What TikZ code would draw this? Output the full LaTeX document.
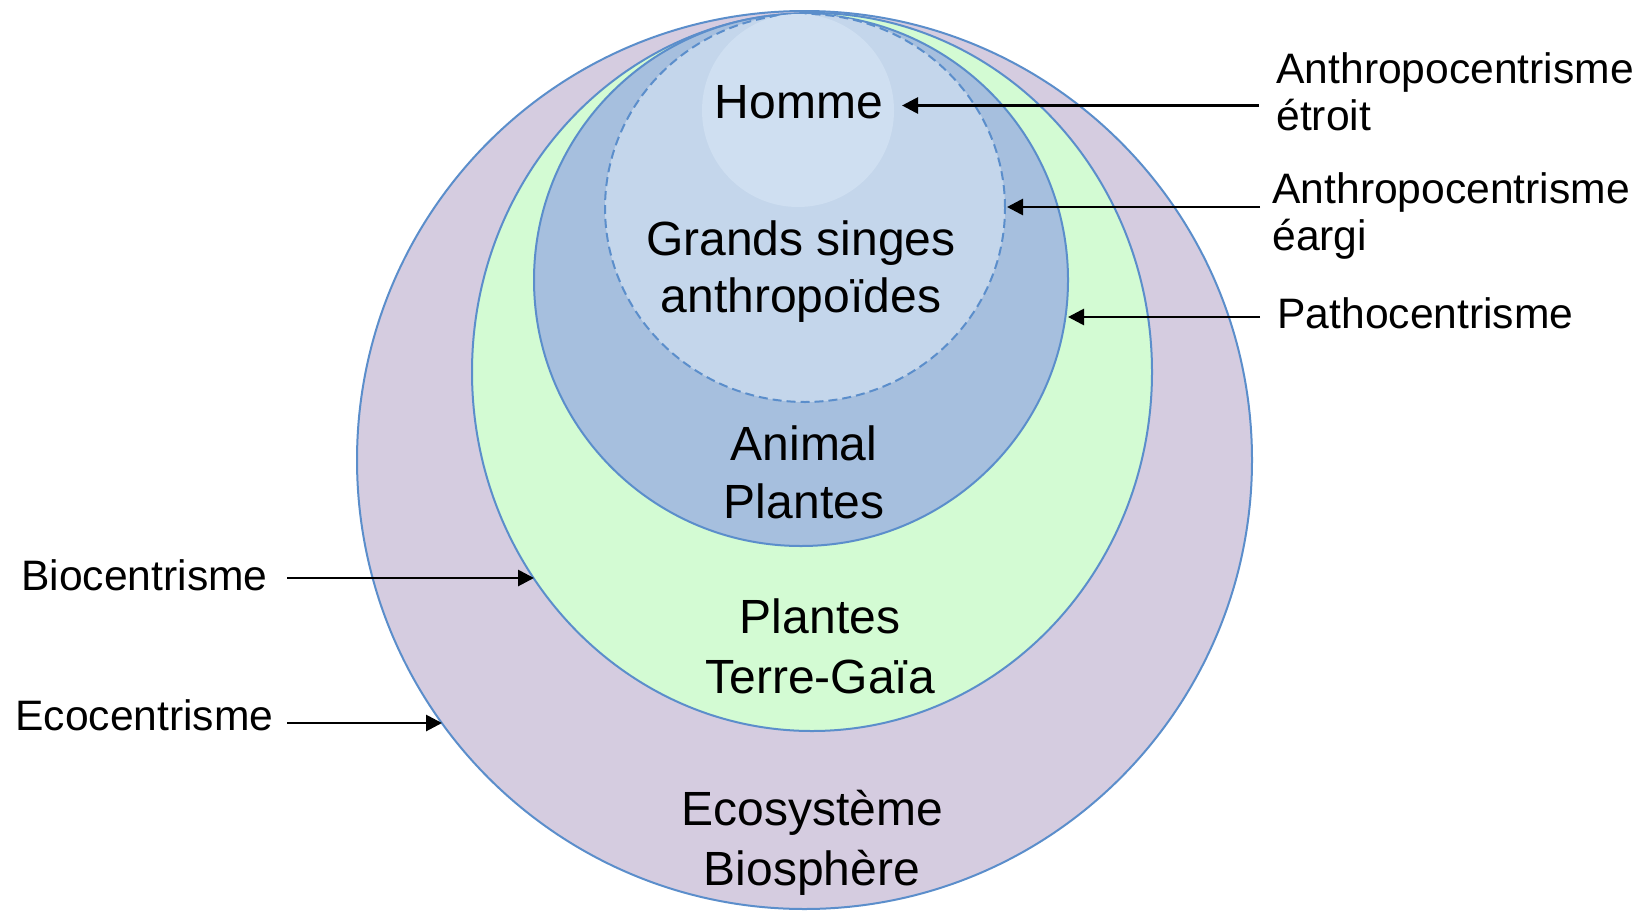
\documentclass[tikz,border=0pt]{standalone}
\usepackage{fontspec}
\setmainfont{Liberation Sans}
\usetikzlibrary{arrows.meta,shapes.geometric}
\definecolor{edgeblue}{HTML}{5B8ECB}
\definecolor{ecofill}{HTML}{D5CCE0}
\definecolor{biofill}{HTML}{D3FBD3}
\definecolor{pathofill}{HTML}{A6BFDE}
\definecolor{largefill}{HTML}{C4D6EB}
\definecolor{hommefill}{HTML}{CFDFF1}
\tikzset{
  zone/.style={ellipse, inner sep=0pt, outer sep=0pt, draw=edgeblue, line width=1pt},
  bigtext/.style={inner sep=0pt, align=center, font=\fontsize{24}{29}\selectfont, anchor=base},
  sidetext/.style={inner sep=0pt, align=left, font=\fontsize{21.3}{23.5}\selectfont, anchor=base west},
  pointer/.style={-{Triangle[length=8pt,width=8pt]}, line width=1.4pt, black}
}
\begin{document}
\begin{tikzpicture}[x=0.5pt,y=-0.5pt]
\useasboundingbox (0,0) rectangle (1642,910);
% zones
\node[zone, fill=ecofill, minimum width=447.5pt, minimum height=449pt] (eco) at (804.5,460) {};
\node[zone, fill=biofill, minimum width=340pt, minimum height=359pt] (bio) at (812,372) {};
\node[zone, fill=pathofill, minimum width=267pt, minimum height=266pt] (patho) at (801,280) {};
\node[zone, fill=largefill, dashed, dash pattern=on 4.5pt off 2.5pt, minimum width=200pt, minimum height=194pt] (large) at (805,208) {};
\node[ellipse, inner sep=0pt, fill=hommefill, minimum width=96pt, minimum height=96.5pt] (homme) at (798,110.5) {};
% inner texts (base = last line baseline)
\node[bigtext] (thomme) at (799,118) {Homme};
\node[bigtext, font=\fontsize{24}{28.5}\selectfont] (tsinges) at (801,312) {Grands singes\\anthropoïdes};
\node[bigtext] (tanimal) at (804,518) {Animal\\Plantes};
\node[bigtext, font=\fontsize{24}{30}\selectfont] (tplantes) at (820,693) {Plantes\\Terre-Gaïa};
\node[bigtext, font=\fontsize{24}{30}\selectfont] (tecosys) at (812,885) {Ecosystème\\Biosphère};
% side labels
\node[sidetext] (letroit) at (1276,130) {Anthropocentrisme\\étroit};
\node[sidetext] (largi) at (1272,250) {Anthropocentrisme\\éargi};
\node[sidetext] (lpatho) at (1277,328) {Pathocentrisme};
\node[sidetext] (lbio) at (21,590) {Biocentrisme};
\node[sidetext] (leco) at (15,730) {Ecocentrisme};
% arrow ends
\coordinate (s1) at (1259,105.5); \coordinate (e1) at (902,105.5);
\coordinate (s2) at (1260,207);   \coordinate (e2) at (1007,207);
\coordinate (s3) at (1260,317);   \coordinate (e3) at (1068,317);
\coordinate (s4) at (287,578);    \coordinate (e4) at (534,578);
\coordinate (s5) at (287,723);    \coordinate (e5) at (442,723);
\draw[pointer] (s1) -- (e1);
\draw[pointer] (s2) -- (e2);
\draw[pointer] (s3) -- (e3);
\draw[pointer] (s4) -- (e4);
\draw[pointer] (s5) -- (e5);
\end{tikzpicture}
\end{document}
